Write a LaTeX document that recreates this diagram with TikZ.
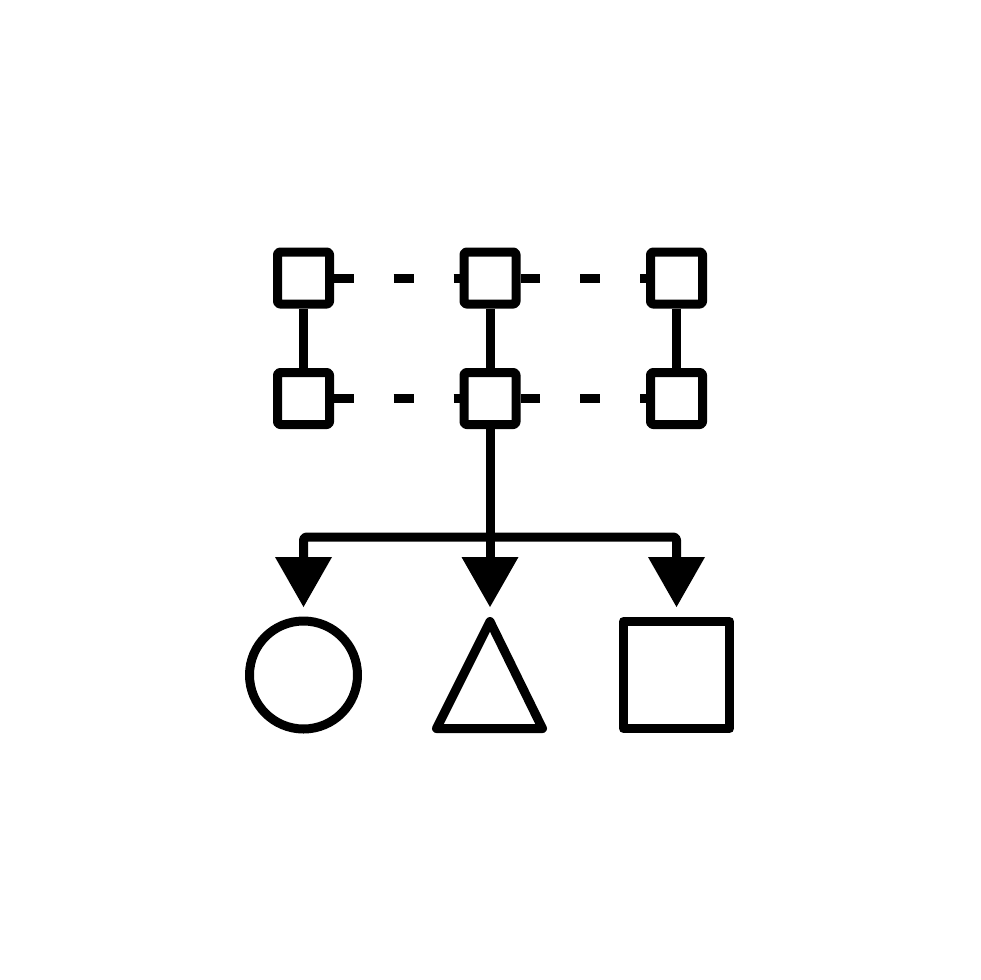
\documentclass[tikz,border=0pt]{standalone}
\usetikzlibrary{arrows.meta}
\begin{document}
\begin{tikzpicture}[x=1pt,y=-1pt,line width=9pt,line join=round,
  sbox/.style={draw,rectangle,minimum size=52pt,inner sep=0pt,rounded corners=2.5pt},
  link/.style={dash pattern=on 19.5pt off 40pt on 20pt off 40pt on 20pt},
  arr/.style={-{Triangle[width=57pt,length=50pt,line width=0pt]}}]
\useasboundingbox (0,0) rectangle (980,980);
% boxes
\node[sbox] (a1) at (303.5,278) {};
\node[sbox] (b1) at (490,278) {};
\node[sbox] (c1) at (676.5,278) {};
\node[sbox] (a2) at (303.5,398.5) {};
\node[sbox] (b2) at (490,398.5) {};
\node[sbox] (c2) at (676.5,398.5) {};
% horizontal dashed links
\draw[link] (a1.east) -- (b1.west);
\draw[link] (b1.east) -- (c1.west);
\draw[link] (a2.east) -- (b2.west);
\draw[link] (b2.east) -- (c2.west);
% vertical links
\draw (a1.south) -- (a2.north);
\draw (b1.south) -- (b2.north);
\draw (c1.south) -- (c2.north);
% shapes
\node[draw,circle,minimum size=108pt,inner sep=0pt] (circ) at (303.5,675) {};
\node[draw,rectangle,minimum width=106pt,minimum height=107pt,inner sep=0pt] (sq) at (676.5,675) {};
\coordinate (tA) at (490,621.5);
\coordinate (tB) at (542.5,728.5);
\coordinate (tC) at (436.5,728.5);
\draw (tA) -- (tB) -- (tC) -- cycle;
% arrows
\coordinate (hub) at (490,537);
\coordinate (pc) at (303.5,607);
\coordinate (pt) at (490,607);
\coordinate (ps) at (676.5,607);
\draw[arr] (b2.south) -- (pt);
\draw[arr,rounded corners=3pt] (hub) -| (pc);
\draw[arr,rounded corners=3pt] (hub) -| (ps);
\end{tikzpicture}
\end{document}
